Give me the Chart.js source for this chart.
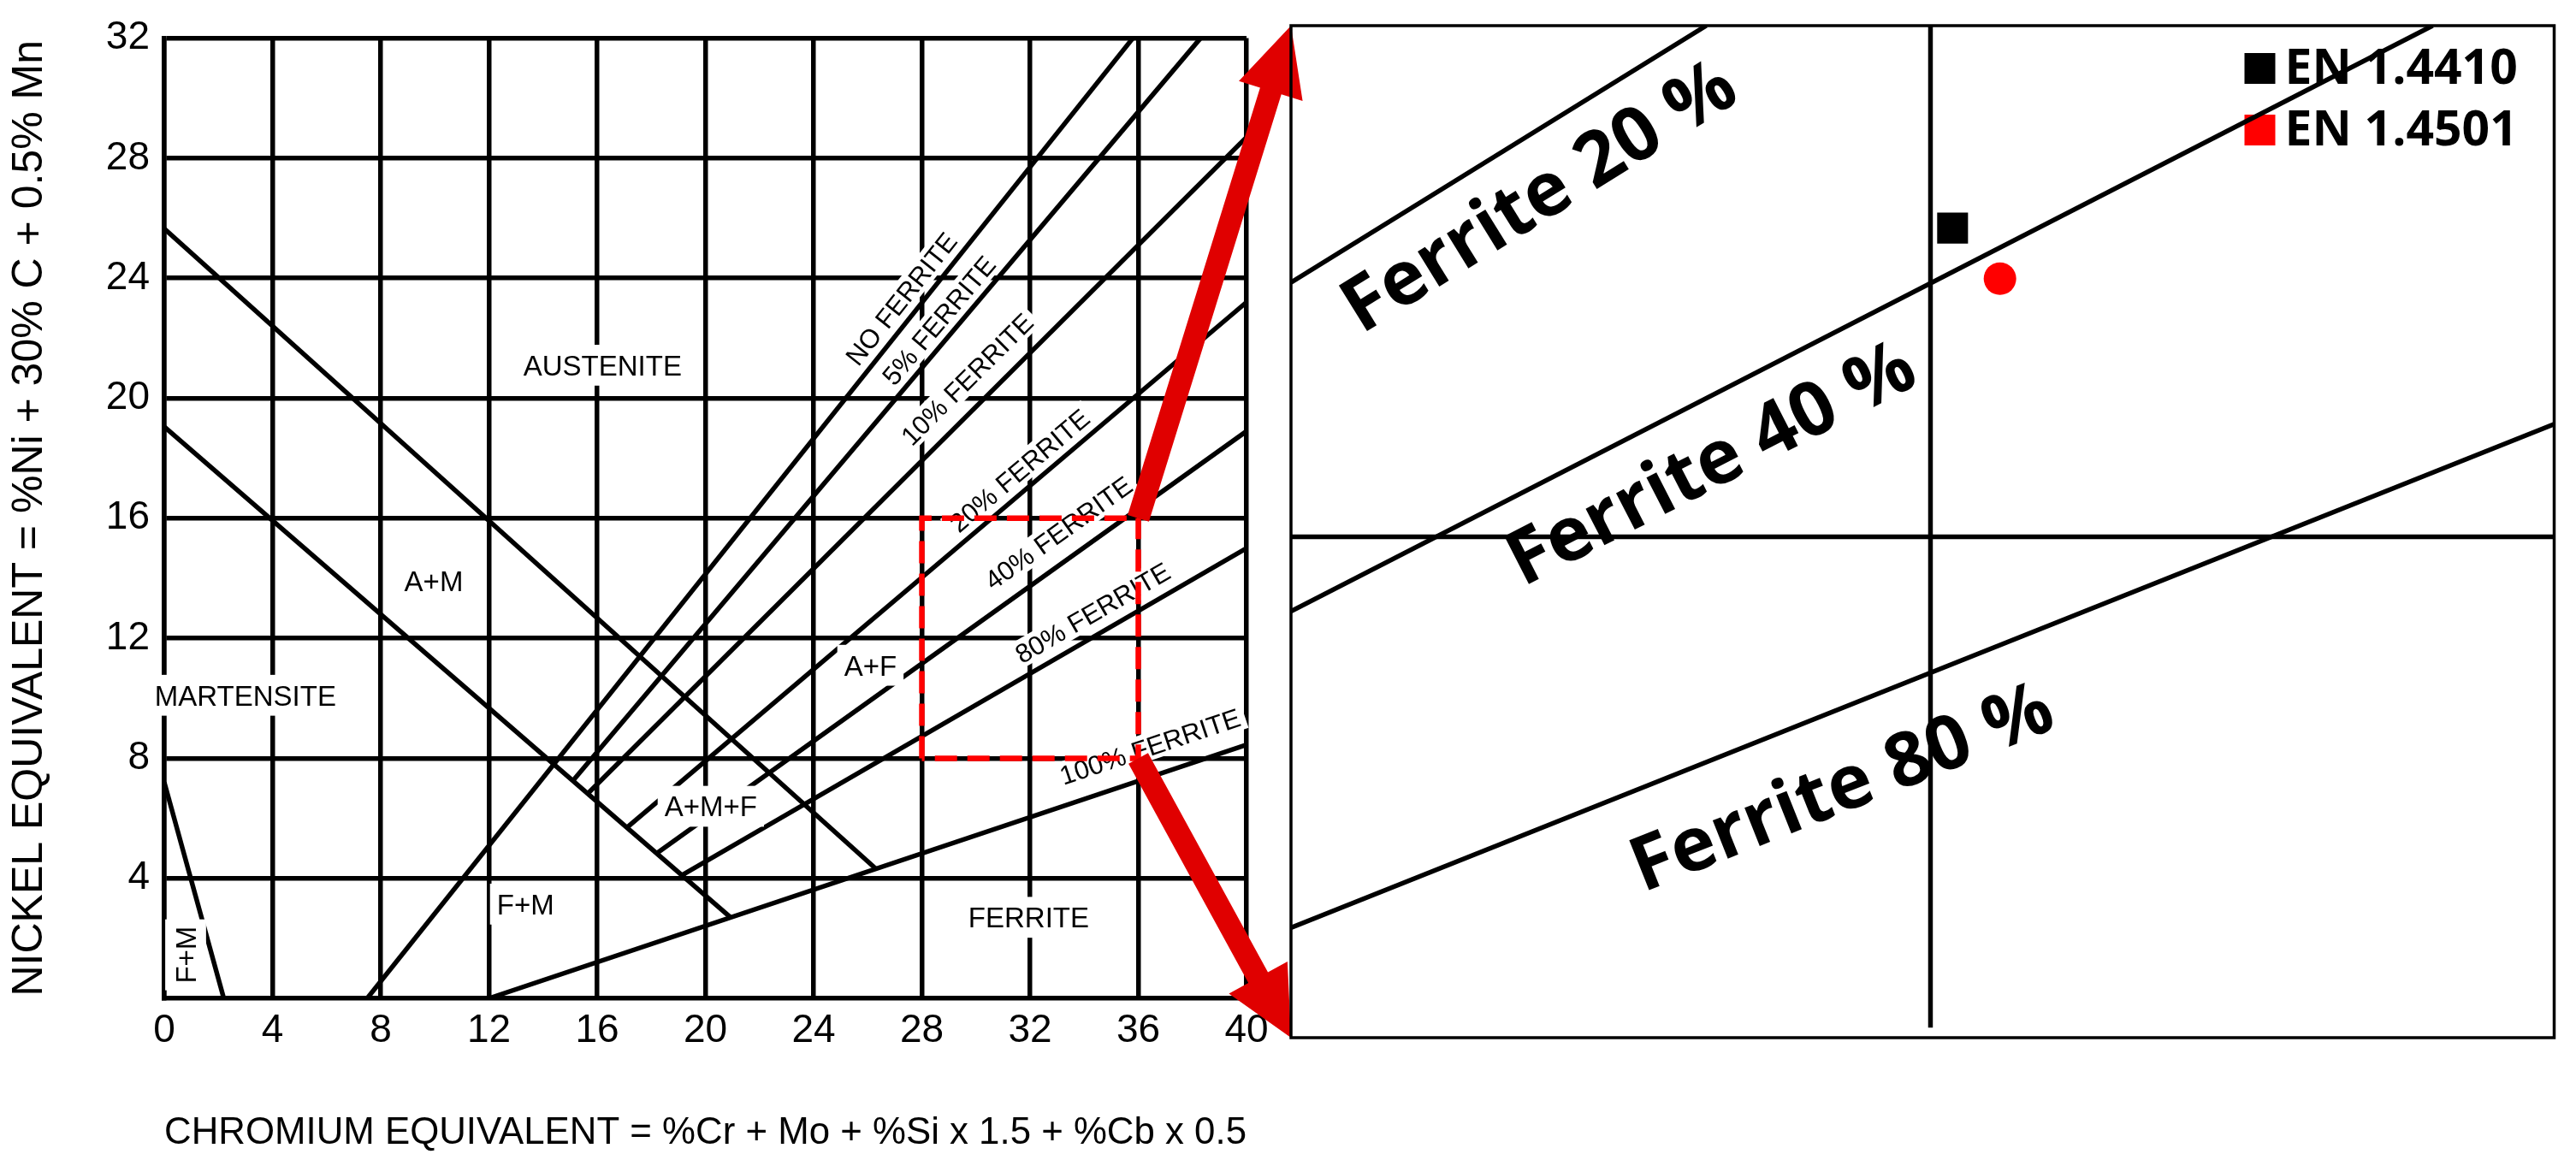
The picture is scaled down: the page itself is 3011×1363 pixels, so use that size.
<!DOCTYPE html>
<html>
<head>
<meta charset="utf-8">
<script src="https://cdn.jsdelivr.net/npm/chart.js@4.4.1/dist/chart.umd.min.js"></script>
<style>
html,body{margin:0;padding:0;background:#fff;overflow:hidden}
#wrap{position:relative;width:3011px;height:1363px;background:#fff}
#wrap canvas{position:absolute;left:0;top:0}
</style>
</head>
<body>
<div id="wrap">
  <canvas id="main" width="3011" height="1363"></canvas>
  <canvas id="inset" width="3011" height="1363"></canvas>
</div>
<script>
// ---------- tick values ----------
const crTicks = [0, 4, 8, 12, 16, 20, 24, 28, 32, 36, 40];
const niTicks = [4, 8, 12, 16, 20, 24, 28, 32];

// ---------- Schaeffler diagram lines (Cr-eq, Ni-eq) ----------
const noFerrite      = [{x: 7.5,  y: 0},    {x: 35.8, y: 32}];
const ferrite5       = [{x: 15.1, y: 7.25}, {x: 38.3, y: 32}];
const ferrite10      = [{x: 15.65,y: 6.82}, {x: 40,   y: 28.7}];
const ferrite20      = [{x: 17.1, y: 5.69}, {x: 40,   y: 23.2}];
const ferrite40      = [{x: 18.2, y: 4.83}, {x: 40,   y: 18.9}];
const ferrite80      = [{x: 19.13,y: 4.1},  {x: 40,   y: 15.0}];
const ferrite100     = [{x: 12,   y: 0},    {x: 40,   y: 8.45}];
const martensiteHigh = [{x: 0,    y: 25.65},{x: 26.3, y: 4.32}];
const martensiteLow  = [{x: 0,    y: 19.05},{x: 20.93,y: 2.7}];
const fmBoundary     = [{x: 0,    y: 7.2},  {x: 2.2,  y: 0}];
const zoomBox        = [{x: 28, y: 8}, {x: 28, y: 16}, {x: 36, y: 16}, {x: 36, y: 8}, {x: 28, y: 8}];

// ---------- inset (zoom of Cr-eq 28..36, Ni-eq 8..16) ----------
const insetFerrite20 = [{x: 28, y: 13.97}, {x: 30.63, y: 16}];
const insetFerrite40 = [{x: 28, y: 11.37}, {x: 35.23, y: 16}];
const insetFerrite80 = [{x: 28, y: 8.87},  {x: 36,    y: 12.85}];
const insetCrossV    = [{x: 32.05, y: 16}, {x: 32.05, y: 8.08}];
const insetCrossH    = [{x: 28, y: 11.96}, {x: 36, y: 11.96}];
const en14410        = [{x: 32.19, y: 14.40}];
const en14501        = [{x: 32.49, y: 14.00}];

// ---------- text ----------
const X_TITLE = 'CHROMIUM EQUIVALENT = %Cr + Mo + %Si x 1.5 + %Cb x 0.5';
const Y_TITLE = 'NICKEL EQUIVALENT = %Ni + 30% C + 0.5% Mn';

function hasFont(name) {
  const c = document.createElement('canvas').getContext('2d');
  const s = 'abcdefghijKLMNOPQR0123456789';
  c.font = '40px monospace';
  const a = c.measureText(s).width;
  c.font = `40px '${name}', monospace`;
  return Math.abs(c.measureText(s).width - a) > 0.5;
}
const FONT_L = "'Liberation Sans', Arial, Helvetica, sans-serif";
const NARROW = hasFont('Liberation Sans Narrow');
const FONT_TICK = NARROW ? "'Liberation Sans Narrow', 'Liberation Sans', sans-serif" : FONT_L;
const TICK_SIZE = NARROW ? 51 : 46;
const FONT_R = "'Open Sans', 'Noto Sans', sans-serif";

const regionLabels = [
  {text: 'AUSTENITE',  x: 16.2,  y: 21.1, rot: 0},
  {text: 'A+M',        x: 9.96,  y: 13.9, rot: 0},
  {text: 'MARTENSITE', x: 3.0,   y: 10.1, rot: 0},
  {text: 'A+F',        x: 26.1,  y: 11.1, rot: 0},
  {text: 'A+M+F',      x: 20.2,  y: 6.4,  rot: 0},
  {text: 'F+M',        x: 13.35, y: 3.14, rot: 0},
  {text: 'FERRITE',    x: 31.95, y: 2.7,  rot: 0},
  {text: 'F+M',        x: 0.79,  y: 1.45, rot: -Math.PI / 2}
];
const lineLabels = [
  {text: 'NO FERRITE',   x: 27.23, y: 23.32, line: noFerrite},
  {text: '5% FERRITE',   x: 28.62, y: 22.6,  line: ferrite5},
  {text: '10% FERRITE',  x: 29.66, y: 20.64, line: ferrite10},
  {text: '20% FERRITE',  x: 31.6,  y: 17.6,  line: ferrite20},
  {text: '40% FERRITE',  x: 33.04, y: 15.52, line: ferrite40},
  {text: '80% FERRITE',  x: 34.3,  y: 12.86, line: ferrite80},
  {text: '100% FERRITE', x: 36.43, y: 8.4,   line: ferrite100}
];
const insetLabels = [
  {text: 'Ferrite 20 %', x: 29.56, y: 14.67, line: insetFerrite20},
  {text: 'Ferrite 40 %', x: 30.65, y: 12.56, line: insetFerrite40},
  {text: 'Ferrite 80 %', x: 31.48, y: 10.0,  line: insetFerrite80}
];

// ---------- helpers ----------
function lineAngle(scales, line) {
  const {x, y} = scales;
  const p0 = line[0], p1 = line[line.length - 1];
  return Math.atan2(y.getPixelForValue(p1.y) - y.getPixelForValue(p0.y),
                    x.getPixelForValue(p1.x) - x.getPixelForValue(p0.x));
}
function drawBoxedText(ctx, text, cx, cy, ang, font, size, padX, padY, boxed) {
  ctx.save();
  ctx.translate(cx, cy);
  ctx.rotate(ang);
  ctx.font = font;
  const w = ctx.measureText(text).width;
  const h = size * 0.72;
  if (boxed) {
    ctx.fillStyle = '#fff';
    ctx.fillRect(-w / 2 - padX, -h / 2 - padY, w + 2 * padX, h + 2 * padY);
  }
  ctx.fillStyle = '#000';
  ctx.textAlign = 'center';
  ctx.textBaseline = 'alphabetic';
  ctx.fillText(text, 0, h / 2);
  ctx.restore();
}
function drawArrow(ctx, x0, y0, x1, y1, shaftW, headL, headW) {
  const dx = x1 - x0, dy = y1 - y0, len = Math.hypot(dx, dy);
  const ux = dx / len, uy = dy / len, nx = -uy, ny = ux;
  const bx = x1 - ux * headL, by = y1 - uy * headL;
  ctx.beginPath();
  ctx.moveTo(x0 + nx * shaftW / 2, y0 + ny * shaftW / 2);
  ctx.lineTo(bx + nx * shaftW / 2, by + ny * shaftW / 2);
  ctx.lineTo(bx + nx * headW / 2, by + ny * headW / 2);
  ctx.lineTo(x1, y1);
  ctx.lineTo(bx - nx * headW / 2, by - ny * headW / 2);
  ctx.lineTo(bx - nx * shaftW / 2, by - ny * shaftW / 2);
  ctx.lineTo(x0 - nx * shaftW / 2, y0 - ny * shaftW / 2);
  ctx.closePath();
  ctx.fill();
}

// ---------- inset chart ----------
const insetFrame = {
  id: 'insetFrame',
  beforeDatasetsDraw(chart) {
    const {ctx, chartArea: a} = chart;
    ctx.save();
    ctx.strokeStyle = '#000';
    ctx.lineWidth = 3.5;
    ctx.strokeRect(a.left, a.top, a.right - a.left, a.bottom - a.top);
    // legend (top-right, inside the panel)
    const items = chart.data.datasets.filter(d => d.legendItem);
    ctx.font = `bold 57px ${FONT_R}`;
    ctx.textBaseline = 'middle';
    ctx.textAlign = 'left';
    items.forEach((d, i) => {
      const cy = a.top + 50 + i * 72;
      const sx = a.right - 362;
      ctx.fillStyle = d.backgroundColor;
      ctx.fillRect(sx, cy - 18, 36, 36);
      ctx.fillStyle = '#000';
      ctx.fillText(d.label, sx + 47, cy + 2);
    });
    // rotated line labels
    insetLabels.forEach(l => {
      drawBoxedText(ctx, l.text, chart.scales.x.getPixelForValue(l.x), chart.scales.y.getPixelForValue(l.y),
        lineAngle(chart.scales, l.line), `bold 88px ${FONT_R}`, 88, 0, 0, false);
    });
    ctx.restore();
  }
};
const insetLine = (data) => ({data, showLine: true, borderColor: '#000', borderWidth: 5.5,
  pointRadius: 0, fill: false, tension: 0});

const insetChart = new Chart(document.getElementById('inset'), {
  type: 'scatter',
  data: {
    datasets: [
      {label: 'EN 1.4410', data: en14410, legendItem: true, pointStyle: 'rect', pointRadius: 25.5,
       backgroundColor: '#000000', borderColor: '#000000', borderWidth: 0, showLine: false},
      {label: 'EN 1.4501', data: en14501, legendItem: true, pointStyle: 'circle', pointRadius: 19,
       backgroundColor: '#ff0000', borderColor: '#ff0000', borderWidth: 0, showLine: false},
      insetLine(insetFerrite20),
      insetLine(insetFerrite40),
      insetLine(insetFerrite80),
      insetLine(insetCrossV),
      insetLine(insetCrossH)
    ]
  },
  options: {
    responsive: false, animation: false, devicePixelRatio: 1,
    layout: {padding: {left: 1509, top: 30, right: 21, bottom: 150}},
    scales: {
      x: {type: 'linear', min: 28, max: 36, display: false},
      y: {type: 'linear', min: 8, max: 16, display: false}
    },
    plugins: {legend: {display: false}, tooltip: {enabled: false}}
  },
  plugins: [insetFrame]
});

// ---------- main chart ----------
const mainDecor = {
  id: 'mainDecor',
  beforeDatasetDraw(chart, args) {
    if (args.index !== 0) return;   // draw labels just before the red zoom box
    const {ctx, scales} = chart;
    regionLabels.forEach(l => {
      drawBoxedText(ctx, l.text, scales.x.getPixelForValue(l.x), scales.y.getPixelForValue(l.y),
        l.rot, `33px ${FONT_L}`, 33, 8, 12, true);
    });
    lineLabels.forEach(l => {
      drawBoxedText(ctx, l.text, scales.x.getPixelForValue(l.x), scales.y.getPixelForValue(l.y),
        lineAngle(scales, l.line), `31px ${FONT_L}`, 31, 6, 5, true);
    });
  },
  afterDraw(chart) {
    const {ctx, scales: {x, y}} = chart;
    const ia = insetChart.chartArea;
    const bxR = Math.max(...zoomBox.map(p => p.x));
    const byT = Math.max(...zoomBox.map(p => p.y));
    const byB = Math.min(...zoomBox.map(p => p.y));
    ctx.save();
    ctx.fillStyle = '#e00000';
    drawArrow(ctx, x.getPixelForValue(bxR), y.getPixelForValue(byT), ia.left, ia.top, 26, 80, 78);
    drawArrow(ctx, x.getPixelForValue(bxR), y.getPixelForValue(byB), ia.left, ia.bottom, 26, 80, 78);
    ctx.restore();
  }
};
const blackLine = (data) => ({data, showLine: true, borderColor: '#000', borderWidth: 5.5,
  pointRadius: 0, fill: false, tension: 0});

const mainChart = new Chart(document.getElementById('main'), {
  type: 'scatter',
  data: {
    datasets: [
      {data: zoomBox, showLine: true, borderColor: '#ff0000', borderWidth: 6.5, borderDash: [26, 12],
       pointRadius: 0, fill: false, tension: 0},
      blackLine(noFerrite), blackLine(ferrite5), blackLine(ferrite10), blackLine(ferrite20),
      blackLine(ferrite40), blackLine(ferrite80), blackLine(ferrite100),
      blackLine(martensiteHigh), blackLine(martensiteLow), blackLine(fmBoundary)
    ]
  },
  options: {
    responsive: false, animation: false, devicePixelRatio: 1,
    layout: {padding: {left: 0, top: 35, right: 1554, bottom: 0}},
    plugins: {legend: {display: false}, tooltip: {enabled: false}},
    scales: {
      x: {
        type: 'linear', min: 0, max: 40,
        afterBuildTicks: s => { s.ticks = crTicks.map(v => ({value: v})); },
        afterFit: s => { s.height = 196; },
        grid: {color: '#000', lineWidth: 5.5, drawTicks: false},
        border: {display: true, color: '#000', width: 5.5},
        ticks: {color: '#000', font: {family: FONT_TICK, size: TICK_SIZE}, padding: 11, maxRotation: 0, autoSkip: false},
        title: {display: true, text: X_TITLE, color: '#000', font: {family: FONT_L, size: 44},
                padding: {top: 0, bottom: 12}}
      },
      y: {
        type: 'linear', min: 0, max: 32,
        afterBuildTicks: s => { s.ticks = niTicks.map(v => ({value: v})); },
        afterFit: s => { s.width = 192; },
        grid: {color: '#000', lineWidth: 5.5, drawTicks: false},
        border: {display: true, color: '#000', width: 5.5},
        ticks: {color: '#000', font: {family: FONT_TICK, size: TICK_SIZE}, padding: 17, autoSkip: false},
        title: {display: true, text: Y_TITLE, color: '#000', font: {family: FONT_L, size: 50},
                padding: {top: 5, bottom: 0}}
      }
    }
  },
  plugins: [mainDecor]
});
</script>
</body>
</html>
